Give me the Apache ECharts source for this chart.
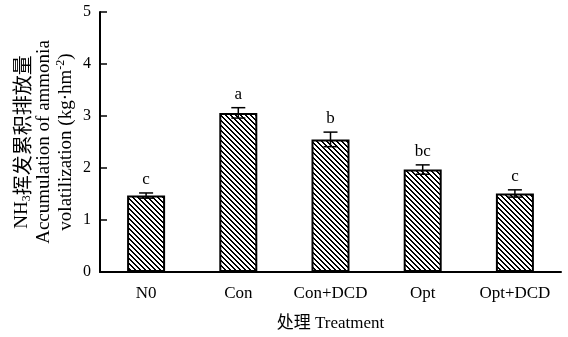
<!DOCTYPE html>
<html>
<head>
<meta charset="utf-8">
<script src="https://cdn.jsdelivr.net/npm/echarts@6/dist/echarts.min.js"></script>
<style>
html,body{margin:0;padding:0;background:#fff;}
#chart{width:568px;height:337px;}
</style>
</head>
<body>
<div id="chart"></div>
<script>
const categories = ['N0', 'Con', 'Con+DCD', 'Opt', 'Opt+DCD'];
const values = [1.47, 3.06, 2.55, 1.97, 1.51];
const errors = [0.05, 0.10, 0.14, 0.09, 0.07];
const letters = ['c', 'a', 'b', 'bc', 'c'];
const yMin = 0, yMax = 5, yStep = 1;

const FONT = '"Liberation Serif", "Times New Roman", "Noto Sans CJK SC", serif';

// hatch pattern (backslash diagonal lines)
const tile = document.createElement('canvas');
tile.width = 5; tile.height = 5;
const tctx = tile.getContext('2d');
tctx.fillStyle = '#fff';
tctx.fillRect(0, 0, 5, 5);
tctx.fillStyle = '#000';
for (let y = 0; y < 5; y++) {
  for (let x = 0; x < 5; x++) {
    if ((((x - y) % 5) + 5) % 5 < 2) tctx.fillRect(x, y, 1, 1);
  }
}

const chart = echarts.init(document.getElementById('chart'), null, {renderer: 'canvas'});

const errData = categories.map((c, i) => [i, values[i], errors[i]]);

chart.setOption({
  animation: false,
  backgroundColor: '#fff',
  grid: {left: 100, right: 7, top: 12, bottom: 65, containLabel: false, outerBoundsMode: 'none'},
  xAxis: {
    type: 'category',
    data: categories,
    axisLine: {lineStyle: {color: '#000', width: 2}},
    axisTick: {inside: true, length: 6, lineStyle: {color: '#000', width: 1.5}},
    axisLabel: {color: '#000', fontFamily: FONT, fontSize: 17, margin: 13, interval: 0, hideOverlap: false},
    name: '处理 Treatment',
    nameLocation: 'middle',
    nameGap: 43,
    nameMoveOverlap: false,
    nameTextStyle: {color: '#000', fontFamily: FONT, fontSize: 17}
  },
  yAxis: {
    type: 'value',
    min: yMin, max: yMax, interval: yStep,
    splitLine: {show: false},
    axisLine: {show: true, lineStyle: {color: '#000', width: 2}},
    axisTick: {show: true, inside: true, length: 7, lineStyle: {color: '#000', width: 1.5}},
    axisLabel: {color: '#000', fontFamily: FONT, fontSize: 16, margin: 9},
    name: '{c|NH}{sub|3}{cn|挥发累积排放量}\n{c|Accumulation of ammonia}\n{c|volatilization (kg·hm}{sup|-2}{c|)}',
    nameLocation: 'middle',
    nameRotate: 90,
    nameGap: 23,
    nameMoveOverlap: false,
    nameTextStyle: {
      color: '#000', fontFamily: FONT, fontSize: 19, lineHeight: 22, align: 'center',
      rich: {
        c: {fontFamily: FONT, fontSize: 19, lineHeight: 22, color: '#000'},
        cn: {fontFamily: '"Noto Sans CJK SC", sans-serif', fontSize: 20, lineHeight: 22, color: '#000'},
        sub: {fontFamily: FONT, fontSize: 12, lineHeight: 12, verticalAlign: 'bottom', color: '#000'},
        sup: {fontFamily: FONT, fontSize: 12, lineHeight: 12, verticalAlign: 'top', color: '#000'}
      }
    }
  },
  series: [
    {
      type: 'bar',
      data: values,
      barWidth: 38,
      itemStyle: {
        color: {image: tile, repeat: 'repeat'},
        borderColor: '#000',
        borderWidth: 2
      },
      z: 2
    },
    {
      type: 'custom',
      data: errData,
      encode: {x: 0, y: 1},
      z: 5,
      renderItem: function (params, api) {
        const x = api.value(0), v = api.value(1), e = api.value(2);
        const hi = api.coord([x, v + e]);
        const lo = api.coord([x, v - e]);
        const w = 14;
        const st = {stroke: '#000', lineWidth: 1.5};
        return {
          type: 'group',
          children: [
            {type: 'line', shape: {x1: hi[0], y1: hi[1], x2: lo[0], y2: lo[1]}, style: st},
            {type: 'line', shape: {x1: hi[0] - w / 2, y1: hi[1], x2: hi[0] + w / 2, y2: hi[1]}, style: st},
            {type: 'line', shape: {x1: lo[0] - w / 2, y1: lo[1], x2: lo[0] + w / 2, y2: lo[1]}, style: st},
            {type: 'text', x: hi[0], y: hi[1] - 5, style: {
              text: letters[params.dataIndex], fill: '#000',
              align: 'center', verticalAlign: 'bottom',
              font: '17px ' + FONT
            }}
          ]
        };
      }
    }
  ]
});
</script>
</body>
</html>
